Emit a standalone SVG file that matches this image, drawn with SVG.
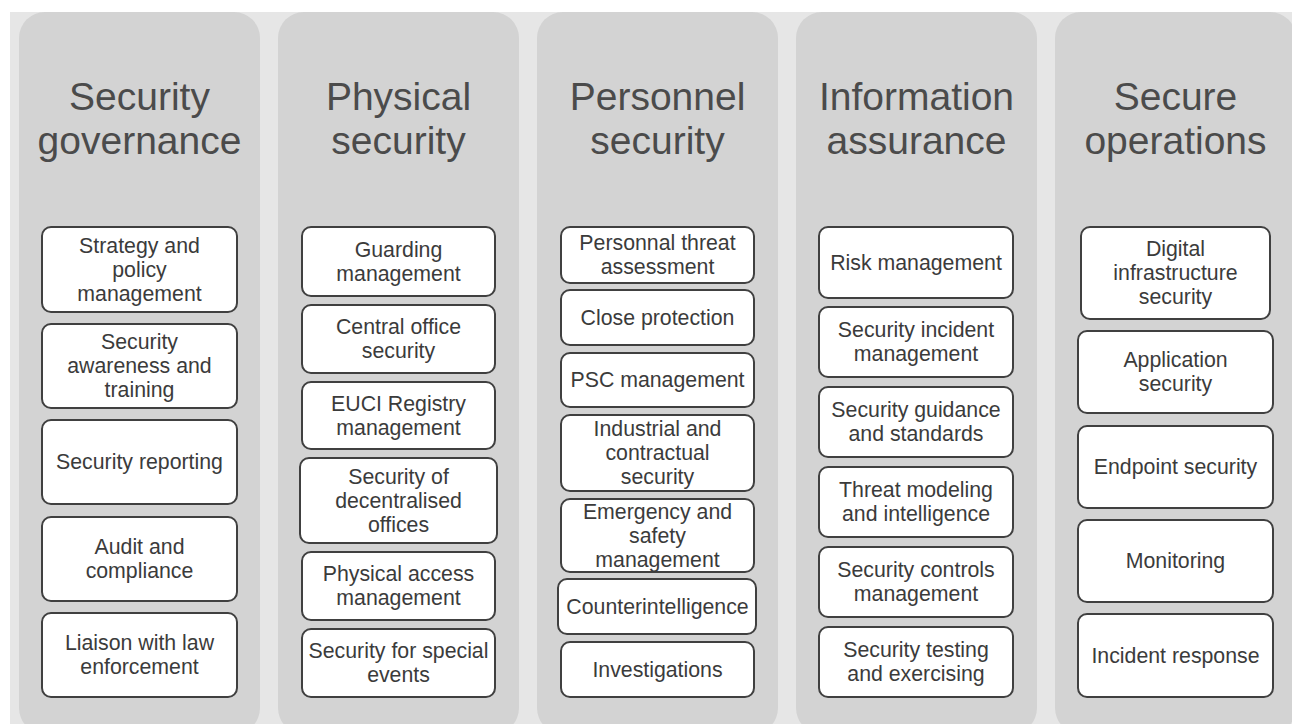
<svg xmlns="http://www.w3.org/2000/svg" width="1292" height="724" viewBox="0 0 1292 724">
  <style>
    .bg { fill: #e6e6e6; }
    .col { fill: #d3d3d3; }
    .head { font-family: "Liberation Sans", Arial, sans-serif; font-size: 39px; fill: #4b4b4b; text-anchor: middle; }
    .box { fill: #ffffff; stroke: #404040; stroke-width: 2; }
    .lbl { font-family: "Liberation Sans", Arial, sans-serif; font-size: 21.3px; fill: #3b3b3b; text-anchor: middle; }
  </style>

  <rect x="0" y="0" width="1292" height="724" fill="#ffffff"/>
  <rect class="bg" x="10" y="12" width="1282" height="712"/>

  <!-- Column panels with headings -->
  <g id="col-governance">
    <rect class="col" x="19" y="12" width="241" height="722" rx="26"/>
    <text class="head" x="139.5" y="109.5">Security<tspan x="139.5" dy="44">governance</tspan></text>
  </g>
  <g id="col-physical">
    <rect class="col" x="278" y="12" width="241" height="722" rx="26"/>
    <text class="head" x="398.5" y="109.5">Physical<tspan x="398.5" dy="44">security</tspan></text>
  </g>
  <g id="col-personnel">
    <rect class="col" x="537" y="12" width="241" height="722" rx="26"/>
    <text class="head" x="657.5" y="109.5">Personnel<tspan x="657.5" dy="44">security</tspan></text>
  </g>
  <g id="col-information">
    <rect class="col" x="796" y="12" width="241" height="722" rx="26"/>
    <text class="head" x="916.5" y="109.5">Information<tspan x="916.5" dy="44">assurance</tspan></text>
  </g>
  <g id="col-operations">
    <rect class="col" x="1055" y="12" width="241" height="722" rx="26"/>
    <text class="head" x="1175.5" y="109.5">Secure<tspan x="1175.5" dy="44">operations</tspan></text>
  </g>

  <!-- Security governance -->
  <g id="gov-strategy">
    <rect class="box" x="42" y="227" width="195" height="85" rx="9"/>
    <text class="lbl" x="139.5" y="252.5">Strategy and<tspan x="139.5" dy="24">policy</tspan><tspan x="139.5" dy="24">management</tspan></text>
  </g>
  <g id="gov-awareness">
    <rect class="box" x="42" y="324" width="195" height="84" rx="9"/>
    <text class="lbl" x="139.5" y="349">Security<tspan x="139.5" dy="24">awareness and</tspan><tspan x="139.5" dy="24">training</tspan></text>
  </g>
  <g id="gov-reporting">
    <rect class="box" x="42" y="420" width="195" height="84" rx="9"/>
    <text class="lbl" x="139.5" y="469">Security reporting</text>
  </g>
  <g id="gov-audit">
    <rect class="box" x="42" y="517" width="195" height="84" rx="9"/>
    <text class="lbl" x="139.5" y="554">Audit and<tspan x="139.5" dy="24">compliance</tspan></text>
  </g>
  <g id="gov-liaison">
    <rect class="box" x="42" y="613" width="195" height="84" rx="9"/>
    <text class="lbl" x="139.5" y="650">Liaison with law<tspan x="139.5" dy="24">enforcement</tspan></text>
  </g>

  <!-- Physical security -->
  <g id="phy-guarding">
    <rect class="box" x="302" y="227" width="193" height="69" rx="9"/>
    <text class="lbl" x="398.5" y="256.5">Guarding<tspan x="398.5" dy="24">management</tspan></text>
  </g>
  <g id="phy-central">
    <rect class="box" x="302" y="305" width="193" height="68" rx="9"/>
    <text class="lbl" x="398.5" y="334">Central office<tspan x="398.5" dy="24">security</tspan></text>
  </g>
  <g id="phy-euci">
    <rect class="box" x="302" y="382" width="193" height="67" rx="9"/>
    <text class="lbl" x="398.5" y="410.5">EUCI Registry<tspan x="398.5" dy="24">management</tspan></text>
  </g>
  <g id="phy-decentralised">
    <rect class="box" x="300" y="458" width="197" height="85" rx="9"/>
    <text class="lbl" x="398.5" y="483.5">Security of<tspan x="398.5" dy="24">decentralised</tspan><tspan x="398.5" dy="24">offices</tspan></text>
  </g>
  <g id="phy-access">
    <rect class="box" x="302" y="552" width="193" height="68" rx="9"/>
    <text class="lbl" x="398.5" y="581">Physical access<tspan x="398.5" dy="24">management</tspan></text>
  </g>
  <g id="phy-events">
    <rect class="box" x="302" y="629" width="193" height="68" rx="9"/>
    <text class="lbl" x="398.5" y="658">Security for special<tspan x="398.5" dy="24">events</tspan></text>
  </g>

  <!-- Personnel security -->
  <g id="per-threat">
    <rect class="box" x="561" y="227" width="193" height="56" rx="9"/>
    <text class="lbl" x="657.5" y="250">Personnal threat<tspan x="657.5" dy="24">assessment</tspan></text>
  </g>
  <g id="per-close">
    <rect class="box" x="561" y="290" width="193" height="55" rx="9"/>
    <text class="lbl" x="657.5" y="324.5">Close protection</text>
  </g>
  <g id="per-psc">
    <rect class="box" x="561" y="353" width="193" height="54" rx="9"/>
    <text class="lbl" x="657.5" y="387">PSC management</text>
  </g>
  <g id="per-industrial">
    <rect class="box" x="561" y="415" width="193" height="76" rx="9"/>
    <text class="lbl" x="657.5" y="436">Industrial and<tspan x="657.5" dy="24">contractual</tspan><tspan x="657.5" dy="24">security</tspan></text>
  </g>
  <g id="per-emergency">
    <rect class="box" x="561" y="499" width="193" height="73" rx="9"/>
    <text class="lbl" x="657.5" y="518.5">Emergency and<tspan x="657.5" dy="24">safety</tspan><tspan x="657.5" dy="24">management</tspan></text>
  </g>
  <g id="per-counterintel">
    <rect class="box" x="558" y="579" width="198" height="55" rx="9"/>
    <text class="lbl" x="657.5" y="613.5">Counterintelligence</text>
  </g>
  <g id="per-investigations">
    <rect class="box" x="561" y="642" width="193" height="55" rx="9"/>
    <text class="lbl" x="657.5" y="676.5">Investigations</text>
  </g>

  <!-- Information assurance -->
  <g id="ia-risk">
    <rect class="box" x="819" y="227" width="194" height="71" rx="9"/>
    <text class="lbl" x="916" y="269.5">Risk management</text>
  </g>
  <g id="ia-incident">
    <rect class="box" x="819" y="307" width="194" height="70" rx="9"/>
    <text class="lbl" x="916" y="337">Security incident<tspan x="916" dy="24">management</tspan></text>
  </g>
  <g id="ia-guidance">
    <rect class="box" x="819" y="387" width="194" height="70" rx="9"/>
    <text class="lbl" x="916" y="417">Security guidance<tspan x="916" dy="24">and standards</tspan></text>
  </g>
  <g id="ia-threat">
    <rect class="box" x="819" y="467" width="194" height="70" rx="9"/>
    <text class="lbl" x="916" y="497">Threat modeling<tspan x="916" dy="24">and intelligence</tspan></text>
  </g>
  <g id="ia-controls">
    <rect class="box" x="819" y="547" width="194" height="70" rx="9"/>
    <text class="lbl" x="916" y="577">Security controls<tspan x="916" dy="24">management</tspan></text>
  </g>
  <g id="ia-testing">
    <rect class="box" x="819" y="627" width="194" height="70" rx="9"/>
    <text class="lbl" x="916" y="657">Security testing<tspan x="916" dy="24">and exercising</tspan></text>
  </g>

  <!-- Secure operations -->
  <g id="ops-infra">
    <rect class="box" x="1081" y="227" width="189" height="92" rx="9"/>
    <text class="lbl" x="1175.5" y="256">Digital<tspan x="1175.5" dy="24">infrastructure</tspan><tspan x="1175.5" dy="24">security</tspan></text>
  </g>
  <g id="ops-application">
    <rect class="box" x="1078" y="331" width="195" height="82" rx="9"/>
    <text class="lbl" x="1175.5" y="367">Application<tspan x="1175.5" dy="24">security</tspan></text>
  </g>
  <g id="ops-endpoint">
    <rect class="box" x="1078" y="426" width="195" height="82" rx="9"/>
    <text class="lbl" x="1175.5" y="474">Endpoint security</text>
  </g>
  <g id="ops-monitoring">
    <rect class="box" x="1078" y="520" width="195" height="82" rx="9"/>
    <text class="lbl" x="1175.5" y="568">Monitoring</text>
  </g>
  <g id="ops-incident">
    <rect class="box" x="1078" y="614" width="195" height="83" rx="9"/>
    <text class="lbl" x="1175.5" y="662.5">Incident response</text>
  </g>
</svg>
